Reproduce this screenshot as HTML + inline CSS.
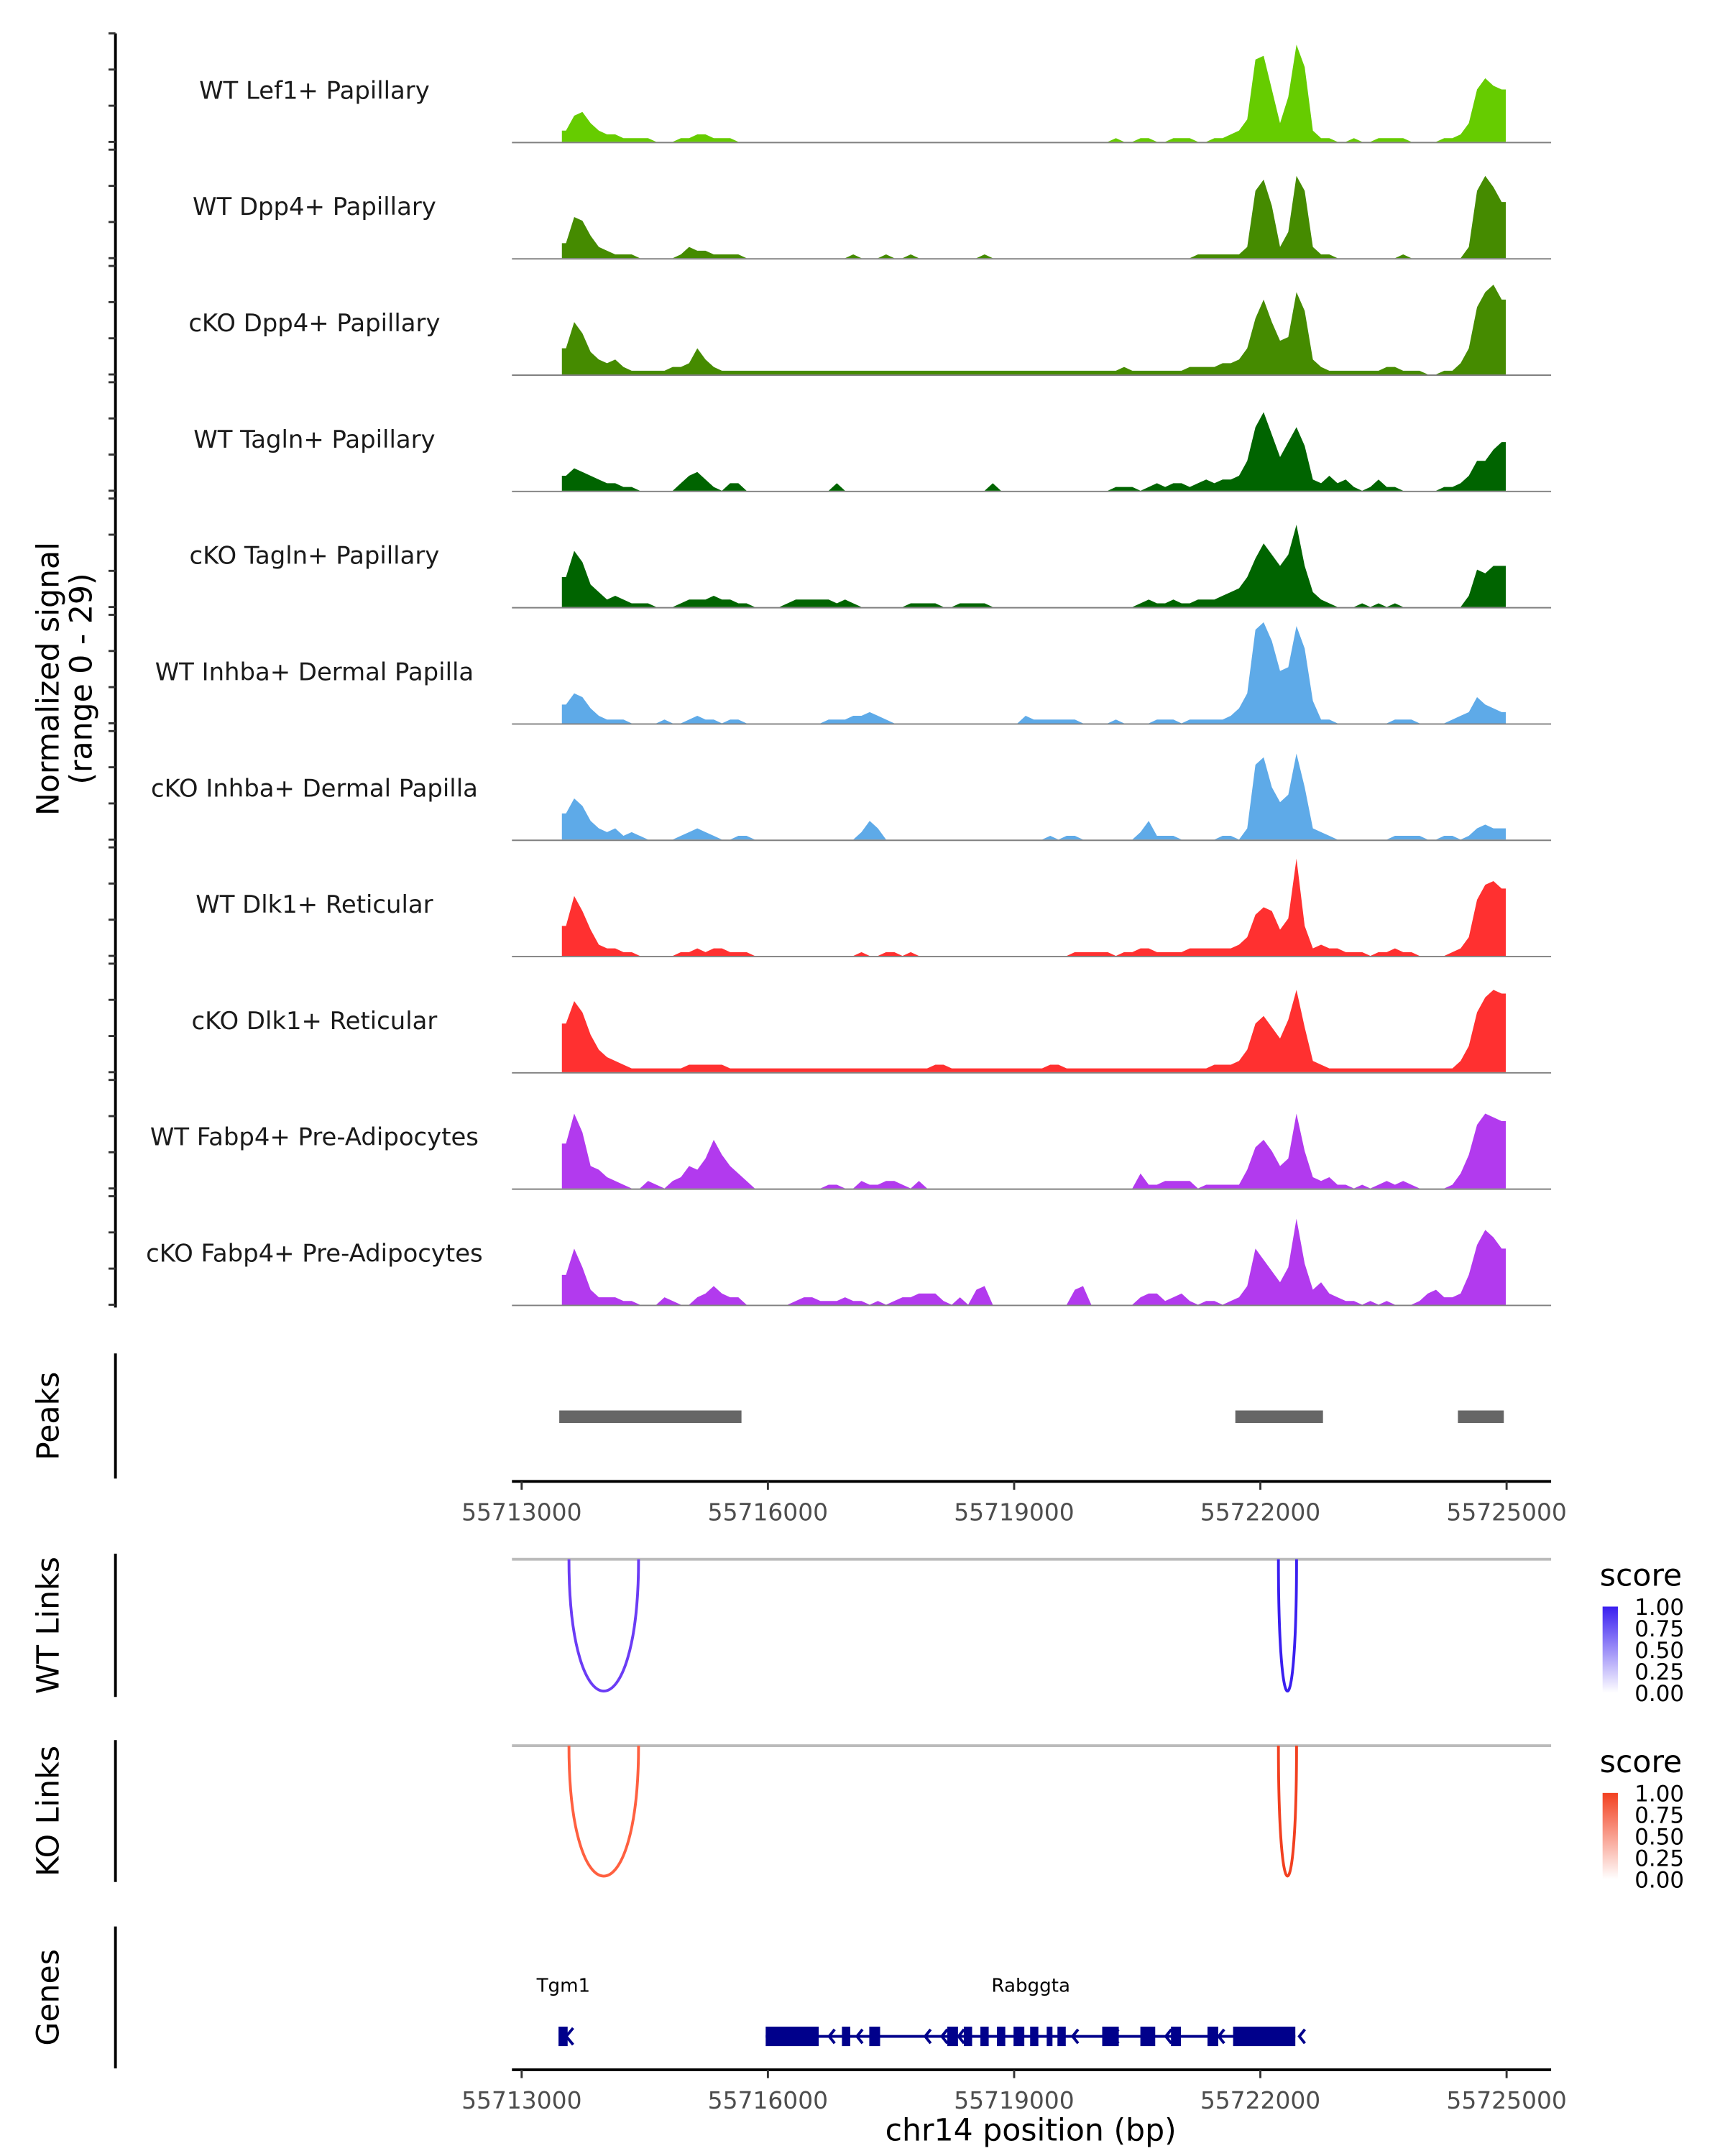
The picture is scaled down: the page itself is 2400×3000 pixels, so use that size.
<!DOCTYPE html>
<html><head><meta charset="utf-8"><style>
html,body{margin:0;padding:0;background:#fff}
svg{display:block}
text{font-family:"DejaVu Sans","Liberation Sans",sans-serif}
</style></head><body>
<svg id="chart" width="2400" height="3000" viewBox="0 0 1240 1550" xmlns="http://www.w3.org/2000/svg">
<g id="tracks"></g>
<g id="peaks"></g>
<g id="links"></g>
<g id="genes"></g>
<g id="axes"></g>
</svg>
<script>
const trackNames = ["WT Lef1+ Papillary","WT Dpp4+ Papillary","cKO Dpp4+ Papillary","WT Tagln+ Papillary","cKO Tagln+ Papillary","WT Inhba+ Dermal Papilla","cKO Inhba+ Dermal Papilla","WT Dlk1+ Reticular","cKO Dlk1+ Reticular","WT Fabp4+ Pre-Adipocytes","cKO Fabp4+ Pre-Adipocytes"];
const trackColors = ["#66cc00","#458b00","#458b00","#006400","#006400","#5eaae8","#5eaae8","#ff3030","#ff3030","#b23aee","#b23aee"];
const binStart = 55713490, binSize = 100;
const sigLef1WT = [3,7,8,5,3,2,2,1,1,1, 1,0,0,0,1,1,2,2,1,1, 1,0,0,0,0,0,0,0,0,0, 0,0,0,0,0,0,0,0,0,0, 0,0,0,0,0,0,0,0,0,0, 0,0,0,0,0,0,0,0,0,0, 0,0,0,0,0,0,0,1,0,0, 1,1,0,0,1,1,1,0,0,1, 1,2,3,6,22,23,14,5,12,26, 20,3,1,1,0,0,1,0,0,1, 1,1,1,0,0,0,0,1,1,2, 5,14,17,15,14];
const sigDpp4WT = [4,11,10,6,3,2,1,1,1,0, 0,0,0,0,1,3,2,2,1,1, 1,1,0,0,0,0,0,0,0,0, 0,0,0,0,0,1,0,0,0,1, 0,0,1,0,0,0,0,0,0,0, 0,1,0,0,0,0,0,0,0,0, 0,0,0,0,0,0,0,0,0,0, 0,0,0,0,0,0,0,1,1,1, 1,1,1,3,18,21,14,3,7,22, 18,3,1,1,0,0,0,0,0,0, 0,0,1,0,0,0,0,0,0,0, 3,18,22,19,15];
const sigDpp4KO = [7,14,11,6,4,3,4,2,1,1, 1,1,1,2,2,3,7,4,2,1, 1,1,1,1,1,1,1,1,1,1, 1,1,1,1,1,1,1,1,1,1, 1,1,1,1,1,1,1,1,1,1, 1,1,1,1,1,1,1,1,1,1, 1,1,1,1,1,1,1,1,2,1, 1,1,1,1,1,1,2,2,2,2, 3,3,4,7,15,20,14,9,10,22, 17,4,2,1,1,1,1,1,1,1, 2,2,1,1,1,0,0,1,1,3, 7,18,22,24,20];
const sigTaglnWT = [4,6,5,4,3,2,2,1,1,0, 0,0,0,0,2,4,5,3,1,0, 2,2,0,0,0,0,0,0,0,0, 0,0,0,2,0,0,0,0,0,0, 0,0,0,0,0,0,0,0,0,0, 0,0,2,0,0,0,0,0,0,0, 0,0,0,0,0,0,0,1,1,1, 0,1,2,1,2,2,1,2,3,2, 3,3,4,8,17,21,15,9,13,17, 12,3,2,4,2,3,1,0,1,3, 1,1,0,0,0,0,0,1,1,2, 4,8,8,11,13];
const sigTaglnKO = [8,15,12,6,4,2,3,2,1,1, 1,0,0,0,1,2,2,2,3,2, 2,1,1,0,0,0,0,1,2,2, 2,2,2,1,2,1,0,0,0,0, 0,0,1,1,1,1,0,0,1,1, 1,1,0,0,0,0,0,0,0,0, 0,0,0,0,0,0,0,0,0,0, 1,2,1,1,2,1,1,2,2,2, 3,4,5,8,13,17,14,11,14,22, 11,4,2,1,0,0,0,1,0,1, 0,1,0,0,0,0,0,0,0,0, 3,10,9,11,11];
const sigInhbaWT = [5,8,7,4,2,1,1,1,0,0, 0,0,1,0,0,1,2,1,1,0, 1,1,0,0,0,0,0,0,0,0, 0,0,1,1,1,2,2,3,2,1, 0,0,0,0,0,0,0,0,0,0, 0,0,0,0,0,0,2,1,1,1, 1,1,1,0,0,0,0,1,0,0, 0,0,1,1,1,0,1,1,1,1, 1,2,4,8,25,27,22,14,15,26, 20,6,1,1,0,0,0,0,0,0, 0,1,1,1,0,0,0,0,1,2, 3,7,5,4,3];
const sigInhbaKO = [7,11,9,5,3,2,3,1,2,1, 0,0,0,0,1,2,3,2,1,0, 0,1,1,0,0,0,0,0,0,0, 0,0,0,0,0,0,2,5,3,0, 0,0,0,0,0,0,0,0,0,0, 0,0,0,0,0,0,0,0,0,1, 0,1,1,0,0,0,0,0,0,0, 2,5,1,1,1,0,0,0,0,0, 1,1,0,3,20,22,14,10,12,23, 14,3,2,1,0,0,0,0,0,0, 0,1,1,1,1,0,0,1,1,0, 1,3,4,3,3];
const sigDlk1WT = [8,16,12,7,3,2,2,1,1,0, 0,0,0,0,1,1,2,1,2,2, 1,1,1,0,0,0,0,0,0,0, 0,0,0,0,0,0,1,0,0,1, 1,0,1,0,0,0,0,0,0,0, 0,0,0,0,0,0,0,0,0,0, 0,0,1,1,1,1,1,0,1,1, 2,2,1,1,1,1,2,2,2,2, 2,2,3,5,11,13,12,7,10,26, 8,2,3,2,2,1,1,1,0,1, 1,2,1,1,0,0,0,0,1,2, 5,15,19,20,18];
const sigDlk1KO = [13,19,16,10,6,4,3,2,1,1, 1,1,1,1,1,2,2,2,2,2, 1,1,1,1,1,1,1,1,1,1, 1,1,1,1,1,1,1,1,1,1, 1,1,1,1,1,2,2,1,1,1, 1,1,1,1,1,1,1,1,1,2, 2,1,1,1,1,1,1,1,1,1, 1,1,1,1,1,1,1,1,1,2, 2,2,3,6,13,15,12,9,14,22, 12,3,2,1,1,1,1,1,1,1, 1,1,1,1,1,1,1,1,1,3, 7,16,20,22,21];
const sigFabp4WT = [12,20,15,6,5,3,2,1,0,0, 2,1,0,2,3,6,5,8,13,9, 6,4,2,0,0,0,0,0,0,0, 0,0,1,1,0,0,2,1,1,2, 2,1,0,2,0,0,0,0,0,0, 0,0,0,0,0,0,0,0,0,0, 0,0,0,0,0,0,0,0,0,0, 4,1,1,2,2,2,2,0,1,1, 1,1,1,5,11,13,10,6,8,20, 10,3,2,3,1,1,0,1,0,1, 2,1,2,1,0,0,0,0,1,4, 9,17,20,19,18];
const sigFabp4KO = [8,15,10,4,2,2,2,1,1,0, 0,0,2,1,0,0,2,3,5,3, 2,2,0,0,0,0,0,0,1,2, 2,1,1,1,2,1,1,0,1,0, 1,2,2,3,3,3,1,0,2,0, 4,5,0,0,0,0,0,0,0,0, 0,0,4,5,0,0,0,0,0,0, 2,3,3,1,2,3,1,0,1,1, 0,1,2,5,15,12,9,6,10,23, 11,4,6,3,2,1,1,0,1,0, 1,0,0,0,1,3,4,2,2,3, 8,16,20,18,15];
const signals = [sigLef1WT,sigDpp4WT,sigDpp4KO,sigTaglnWT,sigTaglnKO,sigInhbaWT,sigInhbaKO,sigDlk1WT,sigDlk1KO,sigFabp4WT,sigFabp4KO];
const peakStarts = [55713458, 55721695, 55724407];
const peakEnds = [55715678, 55722763, 55724966];
const xTicks = [55713000, 55716000, 55719000, 55722000, 55725000];
const linkStarts = [55713576, 55722220];
const linkEnds = [55714424, 55722441];
const wtLinkScores = [0.7, 0.95];
const koLinkScores = [0.7, 0.9];
const legendTicks = ["1.00","0.75","0.50","0.25","0.00"];
const tgm1Start = 55713449, tgm1End = 55713560;
const exonStarts = [55715973,55716902,55717235,55718185,55718387,55718589,55718791,55718993,55719195,55719397,55719528,55720073,55720538,55720911,55721356,55721668];
const exonEnds = [55716619,55717003,55717367,55718316,55718488,55718690,55718892,55719124,55719295,55719467,55719629,55720275,55720719,55721032,55721487,55722426];

const NS="http://www.w3.org/2000/svg";
const X0=55713000, PX=177/3000, XL=375;
function xs(bp){return XL+(bp-X0)*PX;}
function mk(parent,tag,attrs,txt){const e=document.createElementNS(NS,tag);for(const k in attrs)e.setAttribute(k,attrs[k]);if(txt!==undefined)e.textContent=txt;parent.appendChild(e);return e;}
const maxV=29, trackH=78;
const baselines=[102,185.6,269.2,352.8,436.4,520,603.6,687.2,770.8,854.4,938];
const gT=document.getElementById('tracks'), gA=document.getElementById('axes');

let ax=mk(gA,'line',{x1:83,y1:24,x2:83,y2:940,stroke:'#000','stroke-width':2});


baselines.forEach((b)=>{[0,1,2,3].forEach(k=>{const y=b-k*trackH/3;mk(gA,'line',{x1:78,y1:y,x2:83,y2:y,stroke:'#333','stroke-width':1.5});});});
let yt=mk(gA,'text',{x:0,y:0,transform:'translate(42,488) rotate(-90)','text-anchor':'middle','font-size':22,fill:'#000'},'Normalized signal');


let yt2=mk(gA,'text',{x:0,y:0,transform:'translate(66,488) rotate(-90)','text-anchor':'middle','font-size':22,fill:'#000'},'(range 0 - 29)');



signals.forEach((arr,t)=>{
  const b=baselines[t];
  let d='M'+xs(binStart)+','+b;
  arr.forEach((v,i)=>{const x=xs(binStart+(i+0.5)*binSize),y=b-v*trackH/maxV;
    if(i===0)d+=' L'+xs(binStart)+','+y;
    d+=' L'+x+','+y;
    if(i===arr.length-1)d+=' L'+xs(binStart+arr.length*binSize)+','+y;});
  d+=' L'+xs(binStart+arr.length*binSize)+','+b+' Z';
  const p=mk(gT,'path',{d:d,fill:trackColors[t]});
  
  
  mk(gT,'line',{x1:368,y1:b+0.5,x2:1115,y2:b+0.5,stroke:'#808080','stroke-width':1});
  const lb=mk(gT,'text',{x:226,y:b-31,'text-anchor':'middle','font-size':17.5,fill:'#1a1a1a'},trackNames[t]);
  
  
});

const gP=document.getElementById('peaks');
mk(gP,'line',{x1:83,y1:973,x2:83,y2:1063,stroke:'#000','stroke-width':2});
let pl=mk(gP,'text',{x:0,y:0,transform:'translate(42,1018) rotate(-90)','text-anchor':'middle','font-size':22},'Peaks');


peakStarts.forEach((s,i)=>{const r=mk(gP,'rect',{x:xs(s),y:1014,width:xs(peakEnds[i])-xs(s),height:9,fill:'#666'});

});

function xAxis(y,name){
  const l=mk(gA,'line',{x1:368,y1:y,x2:1115,y2:y,stroke:'#000','stroke-width':2});
  
  
  xTicks.forEach(t=>{mk(gA,'line',{x1:xs(t),y1:y,x2:xs(t),y2:y+6,stroke:'#333','stroke-width':1.5});
  mk(gA,'text',{x:xs(t),y:y+28,'text-anchor':'middle','font-size':17,fill:'#4d4d4d'},String(t));});
}
xAxis(1065,'peaks-x-axis');
xAxis(1488,'genes-x-axis');
let xt=mk(gA,'text',{x:741,y:1539,'text-anchor':'middle','font-size':22},'chr14 position (bp)');



const gL=document.getElementById('links');
function linkTrack(top,bottom,label,scores,colLo,colHi,legY,gradId){
  mk(gL,'line',{x1:83,y1:top,x2:83,y2:bottom,stroke:'#000','stroke-width':2});
  const t=mk(gL,'text',{x:0,y:0,transform:'translate(42,'+((top+bottom)/2)+') rotate(-90)','text-anchor':'middle','font-size':22},label);
  
  
  const base=top+4, depth=bottom-base-4;
  mk(gL,'line',{x1:368,y1:base,x2:1115,y2:base,stroke:'#bbb','stroke-width':2});
  linkStarts.forEach((s,i)=>{const a=xs(s),b=xs(linkEnds[i]);
    const col=scores[i]>0.8?colHi:colLo;
    const p=mk(gL,'path',{d:'M'+a+','+base+' C'+a+','+(base+depth*1.33)+' '+b+','+(base+depth*1.33)+' '+b+','+base,fill:'none',stroke:col,'stroke-width':2});
    
    });
  const defs=mk(gL,'defs',{});
  const lg=mk(defs,'linearGradient',{id:gradId,x1:0,y1:1,x2:0,y2:0});
  mk(lg,'stop',{offset:'0','stop-color':'#fff'});
  mk(lg,'stop',{offset:'1','stop-color':colHi});
  const st=mk(gL,'text',{x:1150,y:legY,'font-size':22},'score');
  
  
  const r=mk(gL,'rect',{x:1152,y:legY+15,width:11,height:62,fill:'url(#'+gradId+')'});
  
  
  legendTicks.forEach((tk,i)=>{mk(gL,'text',{x:1175,y:legY+21+i*15.5,'font-size':16},tk);});
}
linkTrack(1117,1220,'WT Links',wtLinkScores,'#6b3cf5','#3a1ff0',1140,'gwt');
linkTrack(1251,1353,'KO Links',koLinkScores,'#ff6040','#f24020',1274,'gko');

const gG=document.getElementById('genes');
mk(gG,'line',{x1:83,y1:1385,x2:83,y2:1487,stroke:'#000','stroke-width':2});
let gl=mk(gG,'text',{x:0,y:0,transform:'translate(42,1436) rotate(-90)','text-anchor':'middle','font-size':22},'Genes');


const gy=1464, navy='#00008b';
let t1=mk(gG,'text',{x:405,y:1432,'text-anchor':'middle','font-size':13.5},'Tgm1');


let t2=mk(gG,'text',{x:741,y:1432,'text-anchor':'middle','font-size':13.5},'Rabggta');


mk(gG,'rect',{x:xs(tgm1Start),y:gy-7,width:xs(tgm1End)-xs(tgm1Start),height:14,fill:navy});
mk(gG,'path',{d:'M412,'+(gy-6)+' L407,'+gy+' L412,'+(gy+6),fill:'none',stroke:navy,'stroke-width':2});
mk(gG,'line',{x1:xs(exonStarts[0]),y1:gy,x2:xs(exonEnds[exonEnds.length-1]),y2:gy,stroke:navy,'stroke-width':2});
exonStarts.forEach((s,i)=>{const r=mk(gG,'rect',{x:xs(s),y:gy-7,width:xs(exonEnds[i])-xs(s),height:14,fill:navy});

});
[596,606,616,665,677,689,731,771,800,838,876,934].forEach(x=>{mk(gG,'path',{d:'M'+(x+4)+','+(gy-5)+' L'+x+','+gy+' L'+(x+4)+','+(gy+5),fill:'none',stroke:navy,'stroke-width':2});});
</script>
</body></html>
